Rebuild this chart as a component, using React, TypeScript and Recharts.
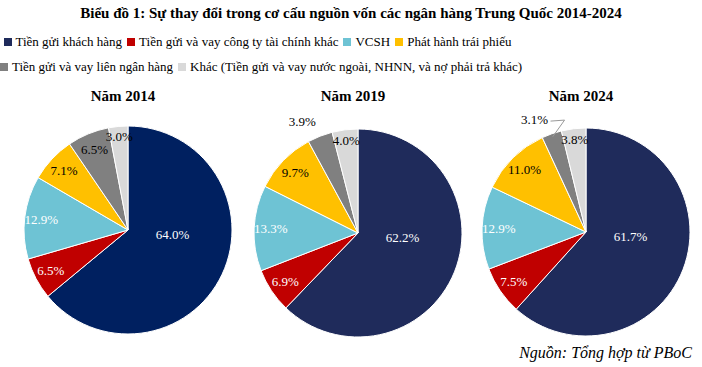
import React from "react";
import { PieChart, Pie, Cell } from "recharts";

const categories = [
  "Tiền gửi khách hàng",
  "Tiền gửi và vay công ty tài chính khác",
  "VCSH",
  "Phát hành trái phiếu",
  "Tiền gửi và vay liên ngân hàng",
  "Khác (Tiền gửi và vay nước ngoài, NHNN, và nợ phải trả khác)",
];
const years = ["Năm 2014", "Năm 2019", "Năm 2024"];
const values2014 = [64.0, 6.5, 12.9, 7.1, 6.5, 3.0];
const values2019 = [62.2, 6.9, 13.3, 9.7, 3.9, 4.0];
const values2024 = [61.7, 7.5, 12.9, 11.0, 3.1, 3.8];

const colors = ["#1F2B5B", "#C00000", "#6EC3D4", "#FFC000", "#808080", "#D9D9D9"];
const navy2014 = "#002060";
const labelColors = ["#fff", "#fff", "#fff", "#000", "#000", "#000"];
const FONT = "Liberation Serif, DejaVu Serif, serif";

const pies = [
  { values: values2014, cx: 123, cy: 225, outside: -1, leader: false, navy: navy2014 },
  { values: values2019, cx: 353, cy: 228, outside: 4, leader: false, navy: colors[0] },
  { values: values2024, cx: 581, cy: 227, outside: 4, leader: true, navy: colors[0] },
];
const R = 104;
const RAD = Math.PI / 180;

const makeLabel = (outside: number, leader: boolean) => (props: any) => {
  const { cx, cy, midAngle, outerRadius, index, value } = props;
  let f = index === 0 ? 0.43 : index === 5 ? 0.9 : 0.84;
  let ang = index === 0 ? midAngle * 0.25 : midAngle;
  let shift = 0;
  if (index === outside) {
    f = 1.15;
    shift = -12;
  }
  const r = outerRadius * f;
  const x = cx + r * Math.cos(-ang * RAD) + shift;
  const y = cy + r * Math.sin(-ang * RAD);
  const ex = cx + outerRadius * 0.97 * Math.cos(-midAngle * RAD);
  const ey = cy + outerRadius * 0.97 * Math.sin(-midAngle * RAD);
  return (
    <g>
      {index === outside && leader && (
        <polyline
          points={`${x + 16},${y + 2} ${x + 30},${y + 1} ${ex},${ey}`}
          fill="none"
          stroke="#999"
          strokeWidth={1}
        />
      )}
      <text
        x={x}
        y={y}
        fill={index === outside ? "#000" : labelColors[index]}
        fontSize={13}
        fontFamily={FONT}
        textAnchor="middle"
        dominantBaseline="central"
      >
        {value.toFixed(1)}%
      </text>
    </g>
  );
};

const legendRows = [
  [0, 1, 2, 3],
  [4, 5],
];

export default function App() {
  return (
    <div
      style={{
        position: "absolute",
        left: 0,
        top: 0,
        width: 702,
        height: 367,
        background: "#fff",
        fontFamily: FONT,
        overflow: "hidden",
      }}
    >
      <div
        style={{
          position: "absolute",
          top: 5,
          width: 702,
          textAlign: "center",
          fontWeight: "bold",
          fontSize: 15,
        }}
      >
        Biểu đồ 1: Sự thay đổi trong cơ cấu nguồn vốn các ngân hàng Trung Quốc 2014-2024
      </div>
      {legendRows.map((row, ri) => (
        <div
          key={ri}
          style={{
            position: "absolute",
            top: 34 + ri * 25,
            left: 0,
            width: 520,
            textAlign: "center",
            fontSize: 13,
            whiteSpace: "nowrap",
          }}
        >
          {row.map((i) => (
            <span key={i} style={{ marginRight: 5 }}>
              <span
                style={{
                  display: "inline-block",
                  width: 8,
                  height: 8,
                  background: colors[i],
                  marginRight: 4,
                }}
              />
              {categories[i]}
            </span>
          ))}
        </div>
      ))}
      {pies.map((p, k) => (
        <div
          key={k}
          style={{
            position: "absolute",
            top: 88,
            left: p.cx - 60,
            width: 120,
            textAlign: "center",
            fontWeight: "bold",
            fontSize: 15,
          }}
        >
          {years[k]}
        </div>
      ))}
      <div style={{ position: "absolute", top: 0, left: 0 }}>
        <PieChart width={702} height={367}>
          {pies.map((p, k) => (
            <Pie
              key={k}
              data={p.values.map((v, i) => ({ name: categories[i], value: v }))}
              dataKey="value"
              cx={p.cx}
              cy={p.cy}
              outerRadius={R}
              startAngle={90}
              endAngle={-270}
              stroke="#fff"
              strokeWidth={1}
              labelLine={false}
              label={makeLabel(p.outside, p.leader)}
              isAnimationActive={false}
            >
              {p.values.map((_, i) => (
                <Cell key={i} fill={i === 0 ? p.navy : colors[i]} />
              ))}
            </Pie>
          ))}
        </PieChart>
      </div>
      <div
        style={{
          position: "absolute",
          top: 344,
          right: 10,
          fontStyle: "italic",
          fontSize: 16,
        }}
      >
        Nguồn: Tổng hợp từ PBoC
      </div>
    </div>
  );
}
